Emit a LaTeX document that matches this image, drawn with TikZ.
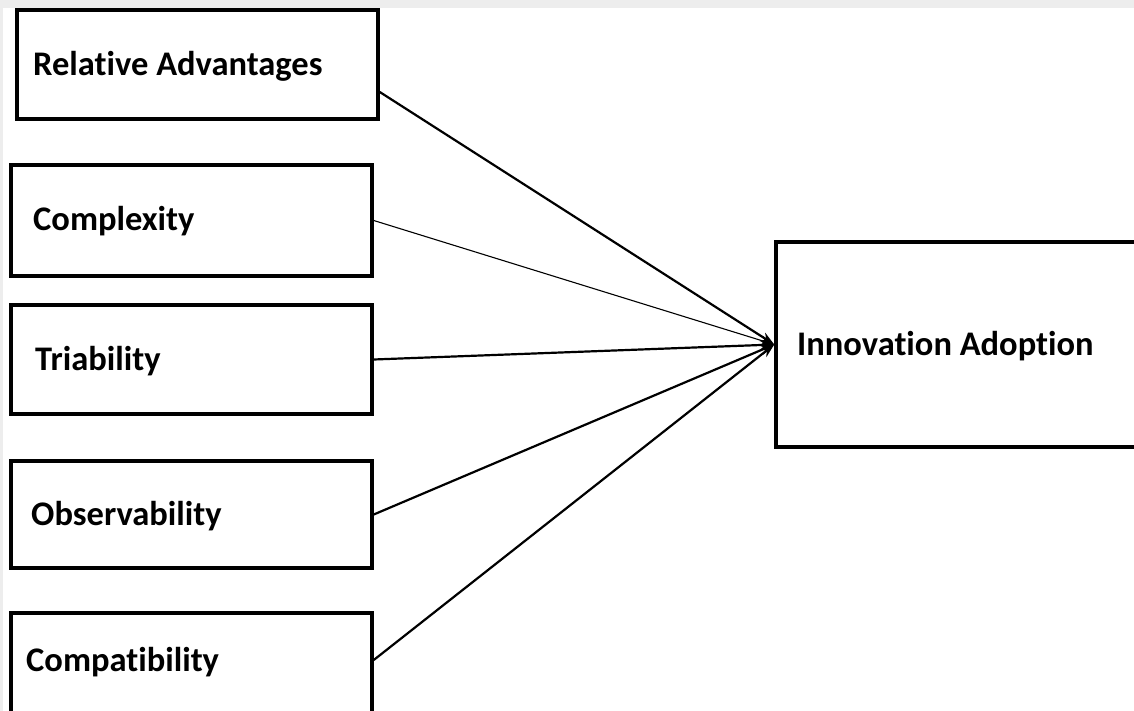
\documentclass[tikz,border=0pt]{standalone}
\usepackage{fontspec}
\setmainfont[Ligatures={NoCommon}]{Carlito}
\usetikzlibrary{arrows.meta}
\begin{document}
\begin{tikzpicture}[x=1pt,y=-1pt,
  box/.style={draw=black, line width=3.5pt, inner sep=0pt},
  lbl/.style={font=\bfseries\fontsize{34.5}{40}\selectfont, anchor=base west, inner sep=0pt},
  link/.style={line width=2.2pt, -{Stealth[length=14pt,width=10pt]}}]
\useasboundingbox (0,0) rectangle (1134,711);
\clip (0,0) rectangle (1134,711);
\fill[black!7] (0,0) rectangle (1134,8);
\fill[black!7] (0,0) rectangle (3,711);
\node[box, minimum width=361pt, minimum height=109pt] (ra) at (197.5,64.5) {};
\node[box, minimum width=361pt, minimum height=111pt] (cx) at (191.5,220.5) {};
\node[box, minimum width=361pt, minimum height=109pt] (tr) at (191.5,359.5) {};
\node[box, minimum width=361pt, minimum height=107pt] (ob) at (191.5,514.5) {};
\node[box, minimum width=361pt, minimum height=107pt] (cp) at (191.5,666.5) {};
\node[box, minimum width=374pt, minimum height=205pt] (ia) at (963,344.5) {};
\node[lbl] (tra) at (33,76) {Relative Advantages};
\node[lbl] (tcx) at (33,231) {Complexity};
\node[lbl] (ttr) at (35,370) {Triability};
\node[lbl] (tob) at (31,525) {Observability};
\node[lbl] (tcp) at (26,671) {Compatibility};
\node[lbl] (tia) at (797,355) {Innovation Adoption};
\draw[link] ([yshift=-27.5pt]ra.east) -- (ia.west);
\draw[link, line width=1.1pt] (cx.east) -- (ia.west);
\draw[link] (tr.east) -- (ia.west);
\draw[link] (ob.east) -- (ia.west);
\draw[link] ([yshift=6.5pt]cp.east) -- (ia.west);
\end{tikzpicture}
\end{document}
